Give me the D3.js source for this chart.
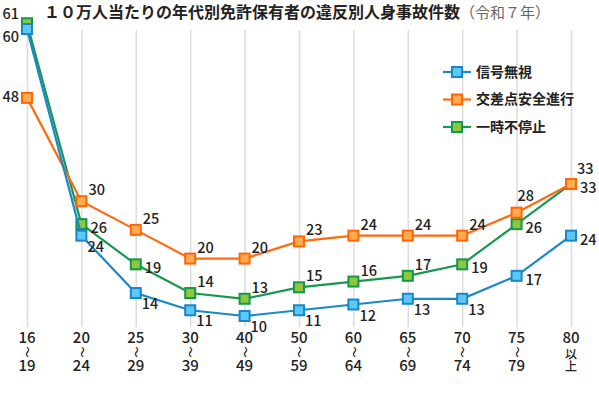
<!DOCTYPE html>
<html>
<head>
<meta charset="utf-8">
<script src="https://cdn.jsdelivr.net/npm/d3@7"></script>
<style>
  body { margin: 0; background: #fff; }
  svg text { font-family: "Noto Sans CJK JP", "Noto Sans", sans-serif; fill: #222; }
</style>
</head>
<body>
<div id="chart"></div>
<script>
// data
const ages = ['16', '20', '25', '30', '40', '50', '60', '65', '70', '75', '80'];
const agesTo = ['19', '24', '29', '39', '49', '59', '64', '69', '74', '79', '以上'];
const seriesNames = ['信号無視', '交差点安全進行', '一時不停止'];
const signalValues = [60, 24, 14, 11, 10, 11, 12, 13, 13, 17, 24];
const crossingValues = [48, 30, 25, 20, 20, 23, 24, 24, 24, 28, 33];
const stopValues = [61, 26, 19, 14, 13, 15, 16, 17, 19, 26, 33];

// where each value label sits around its marker
const signalLabelPos = ['sw', 'se', 'se', 'se', 'se', 'se', 'se', 'se', 'se', 'e', 'e'];
const crossingLabelPos = ['w', 'ne', 'ne', 'ne', 'ne', 'ne', 'ne', 'ne', 'ne', 'n', 'nn'];
const stopLabelPos = ['nw', 'e', 'e', 'ne', 'ne', 'ne', 'ne', 'ne', 'e', 'e', 'e'];

const width = 599, height = 405;

const svg = d3.select('#chart').append('svg')
    .attr('width', width)
    .attr('height', height);

const xScale = d3.scalePoint()
    .domain(ages)
    .range([27, 571]);

const yScale = d3.scaleLinear()
    .domain([10, 60])
    .range([316, 29]);

// vertical grid
svg.append('g')
    .attr('class', 'grid')
    .attr('transform', 'translate(0,327)')
    .call(d3.axisBottom(xScale).tickSize(-297).tickFormat(''))
    .call(g => g.select('.domain').remove())
    .call(g => g.selectAll('line').attr('stroke', '#dcdcdc').attr('stroke-width', 1.5));

// x labels: "16 ~ 19" stacked, "80 以上" written vertically for the last one
const xLab = svg.append('g').attr('class', 'x-labels');
ages.forEach((a, i) => {
    const x = xScale(a);
    xLab.append('text').attr('x', x).attr('y', 343).attr('text-anchor', 'middle')
        .style('font-size', '15px').style('font-weight', 500).text(a);
    if (isNaN(+agesTo[i])) {
        xLab.append('text').attr('x', x).attr('y', 348)
            .style('writing-mode', 'vertical-rl')
            .style('font-size', '12px').style('font-weight', 500).text(agesTo[i]);
    } else {
        xLab.append('text').attr('transform', `translate(${x},352) rotate(90)`)
            .attr('text-anchor', 'middle').attr('dy', '0.35em')
            .style('font-size', '11px').style('font-weight', 500).text('～');
        xLab.append('text').attr('x', x).attr('y', 371).attr('text-anchor', 'middle')
            .style('font-size', '15px').style('font-weight', 500).text(agesTo[i]);
    }
});

const series = [
    {name: seriesNames[0], values: signalValues, pos: signalLabelPos, line: '#1a88c8', fill: '#5cc8f6', stroke: '#1a86c6'},
    {name: seriesNames[1], values: crossingValues, pos: crossingLabelPos, line: '#ff6a10', fill: '#ffab4f', stroke: '#ff6608'},
    {name: seriesNames[2], values: stopValues, pos: stopLabelPos, line: '#16994c', fill: '#8dc63f', stroke: '#13984a'}
];

const offsets = {
    ne: {dx: 7, dy: -11, anchor: 'start'},
    n: {dx: 1, dy: -17, anchor: 'start'},
    nn: {dx: 6, dy: -15, anchor: 'start'},
    e: {dx: 9, dy: 4, anchor: 'start'},
    se: {dx: 6, dy: 11, anchor: 'start'},
    sw: {dx: -8, dy: 8, anchor: 'end'},
    nw: {dx: -8, dy: -9, anchor: 'end'},
    w: {dx: -8, dy: -1, anchor: 'end'}
};

const line = d3.line()
    .x((d, i) => xScale(ages[i]))
    .y(d => yScale(d));

// draw green first, then orange, then blue on top
[2, 1, 0].forEach(k => {
    const s = series[k];
    const g = svg.append('g').attr('class', 'series');
    g.append('path')
        .datum(s.values)
        .attr('fill', 'none')
        .attr('stroke', s.line)
        .attr('stroke-width', 2.2)
        .attr('d', line);
    g.selectAll('rect')
        .data(s.values)
        .enter().append('rect')
        .attr('x', (d, i) => xScale(ages[i]) - 5)
        .attr('y', d => yScale(d) - 5)
        .attr('width', 10)
        .attr('height', 10)
        .attr('fill', s.fill)
        .attr('stroke', s.stroke)
        .attr('stroke-width', 2);
});

// value labels
series.forEach(s => {
    svg.append('g').selectAll('text')
        .data(s.values)
        .enter().append('text')
        .attr('x', (d, i) => xScale(ages[i]) + offsets[s.pos[i]].dx)
        .attr('y', (d, i) => yScale(d) + offsets[s.pos[i]].dy)
        .attr('dy', '0.35em')
        .attr('text-anchor', (d, i) => offsets[s.pos[i]].anchor)
        .style('font-size', '14.5px')
        .style('font-weight', 500)
        .text(d => d);
});

// legend
const legend = svg.append('g').attr('class', 'legend');
series.forEach((s, i) => {
    const y = 72 + i * 27.5;
    legend.append('line').attr('x1', 443).attr('x2', 471).attr('y1', y).attr('y2', y)
        .attr('stroke', s.line).attr('stroke-width', 2.2);
    legend.append('rect').attr('x', 452).attr('y', y - 5).attr('width', 10).attr('height', 10)
        .attr('fill', s.fill).attr('stroke', s.stroke).attr('stroke-width', 2);
    legend.append('text').attr('x', 476).attr('y', y).attr('dy', '0.35em')
        .style('font-size', '14px').style('font-weight', 'bold').text(s.name);
});

// title
const title = svg.append('text').attr('x', 44).attr('y', 18);
title.append('tspan').style('font-size', '16px').style('font-weight', 'bold')
    .text('１０万人当たりの年代別免許保有者の違反別人身事故件数');
title.append('tspan').style('font-size', '15px').style('fill', '#666')
    .text('（令和７年）');
</script>
</body>
</html>
